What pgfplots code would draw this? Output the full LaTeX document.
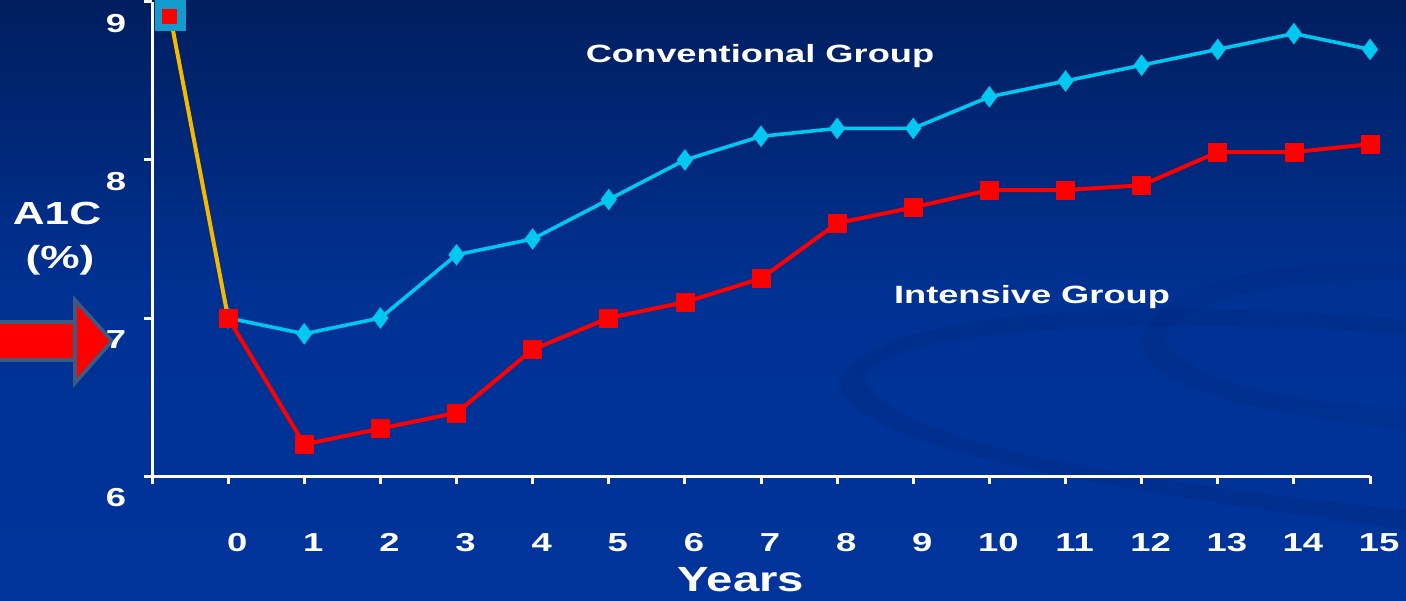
\documentclass[border=0pt]{standalone}
\usepackage{pgfplots}
\pgfplotsset{compat=1.18}
\usepackage{fontspec}
\setmainfont{Liberation Sans}
\usepackage{graphicx}
\definecolor{bgtop}{RGB}{0,30,95}
\definecolor{bgmid}{RGB}{0,50,148}
\definecolor{bgbot}{RGB}{0,52,155}
\definecolor{conv}{RGB}{0,200,240}
\definecolor{inten}{RGB}{255,0,0}
\definecolor{gold}{RGB}{245,185,0}
\definecolor{basecyan}{RGB}{20,155,205}
\definecolor{arrowedge}{RGB}{60,90,130}
\definecolor{swoosh}{RGB}{0,40,125}
\newcommand\sx[1]{\scalebox{1.4}[1]{#1}}
\begin{document}
\begin{tikzpicture}
\useasboundingbox (0,0) rectangle (703pt,300pt);
\shade[top color=bgtop, bottom color=bgbot, middle color=bgmid] (0,0) rectangle (703pt,300pt);
% faint swooshes
\fill[swoosh, opacity=0.3] (420pt,110pt) .. controls (440pt,150pt) and (600pt,150pt) .. (703pt,140pt) -- (703pt,133pt) .. controls (600pt,140pt) and (450pt,140pt) .. (432pt,112pt) .. controls (440pt,80pt) and (560pt,60pt) .. (703pt,45pt) -- (703pt,35pt) .. controls (560pt,55pt) and (420pt,75pt) .. (420pt,110pt) -- cycle;
\fill[swoosh, opacity=0.25] (570pt,130pt) .. controls (585pt,165pt) and (650pt,170pt) .. (703pt,168pt) -- (703pt,160pt) .. controls (650pt,160pt) and (595pt,155pt) .. (582pt,130pt) .. controls (600pt,105pt) and (650pt,100pt) .. (703pt,95pt) -- (703pt,85pt) .. controls (650pt,92pt) and (575pt,100pt) .. (570pt,130pt) -- cycle;
% red arrow
\filldraw[fill=inten, draw=arrowedge, line width=1.8pt, line join=miter]
  (-2pt,120pt) -- (37.5pt,120pt) -- (37.5pt,150pt) -- (56pt,129.5pt) -- (37.5pt,108.5pt) -- (37.5pt,139pt) -- (-2pt,139pt) -- cycle;
\begin{axis}[
  at={(76pt,62pt)}, anchor=south west,
  scale only axis, width=609pt, height=237pt,
  xmin=-1, xmax=15, ymin=6, ymax=9,
  clip=false,
  axis x line*=bottom, axis y line*=left,
  axis line style={white, line width=1.5pt},
  xtick={-1,0,...,15},
  xticklabels={{},\sx{0},\sx{1},\sx{2},\sx{3},\sx{4},\sx{5},\sx{6},\sx{7},\sx{8},\sx{9},\sx{10},\sx{11},\sx{12},\sx{13},\sx{14},\sx{15}},
  ytick={6,7,8,9},
  yticklabels={\sx{6},\sx{7},\sx{8},\sx{9}},
  tick align=outside, major tick length=4pt,
  tick style={white, line width=1.5pt},
  every tick label/.append style={text=white, font=\fontsize{13}{15}\selectfont\bfseries},
  xticklabel style={anchor=base, xshift=4.5pt, yshift=-33.5pt},
  yticklabel style={anchor=center, xshift=-14pt, yshift=-11pt},
]
\addplot[gold, line width=2pt, no marks] coordinates {(-0.76,8.91) (0,7.0)};
\addplot[conv, line width=1.8pt, mark=diamond*, mark size=5pt, mark options={fill=conv, draw=conv, line width=0.5pt}] coordinates {
(0,7.0) (1,6.9) (2,7.0) (3,7.4) (4,7.5) (5,7.75) (6,8.0) (7,8.15) (8,8.2) (9,8.2) (10,8.4) (11,8.5) (12,8.6) (13,8.7) (14,8.8) (15,8.7)};
\addplot[inten, line width=2pt, mark=square*, mark size=4.5pt, mark options={fill=inten, draw=inten, line width=0.3pt}] coordinates {
(0,7.0) (1,6.2) (2,6.3) (3,6.4) (4,6.8) (5,7.0) (6,7.1) (7,7.25) (8,7.6) (9,7.7) (10,7.81) (11,7.81) (12,7.84) (13,8.05) (14,8.05) (15,8.1)};
\addplot[only marks, mark=square*, mark size=7.5pt, mark options={fill=basecyan, draw=basecyan}] coordinates {(-0.76,8.915)};
\addplot[only marks, mark=square*, mark size=3.6pt, mark options={fill=inten, draw=inten}] coordinates {(-0.77,8.91)};
\end{axis}
\node[text=white, font=\fontsize{12.5}{14}\selectfont\bfseries] at (380pt,272pt) {\scalebox{1.45}[1]{Conventional Group}};
\node[text=white, font=\fontsize{12.5}{14}\selectfont\bfseries] at (516pt,151.5pt) {\scalebox{1.45}[1]{Intensive Group}};
\node[text=white, font=\fontsize{16}{18}\selectfont\bfseries] at (28.5pt,193.5pt) {\scalebox{1.38}[1]{A1C}};
\node[text=white, font=\fontsize{16}{18}\selectfont\bfseries] at (30pt,170pt) {\scalebox{1.38}[1]{(\%)}};
\node[text=white, font=\fontsize{17.5}{20}\selectfont\bfseries] at (370.5pt,10pt) {\scalebox{1.35}[1]{Years}};
\end{tikzpicture}
\end{document}
